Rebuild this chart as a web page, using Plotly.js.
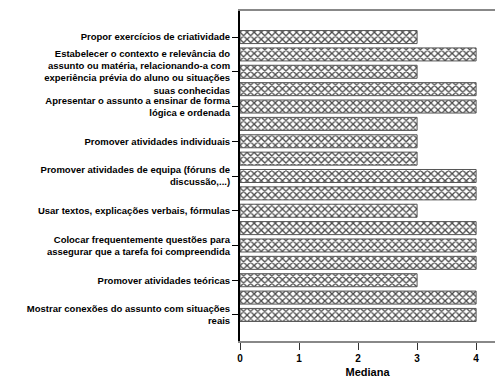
<!DOCTYPE html>
<html>
<head>
<meta charset="utf-8">
<script src="https://cdn.plot.ly/plotly-3.0.1.min.js"></script>
<style>html,body{margin:0;padding:0;background:#fff}#chart{width:495px;height:378px}</style>
</head>
<body>
<div id="chart"></div>
<script>
// bar positions (top to bottom) and median values
const positions = [1,2,3,4,5,6,7,8,9,10,11,12,13,14,15,16,17];
const medians   = [3,4,3,4,4,3,3,3,4,4,3,4,4,4,3,4,4];
// only every other category is labelled in the original
const tickPositions = [1,3,5,7,9,11,13,15,17];
const tickLabels = [
  "Propor exercícios de criatividade",
  "Estabelecer o contexto e relevância do<br>assunto ou matéria, relacionando-a com<br>experiência prévia do aluno ou situações<br>suas conhecidas",
  "Apresentar o assunto a ensinar de forma<br>lógica e ordenada",
  "Promover atividades individuais",
  "Promover atividades de equipa (fóruns de<br>discussão,...)",
  "Usar textos, explicações verbais, fórmulas",
  "Colocar frequentemente questões para<br>assegurar que a tarefa foi compreendida",
  "Promover atividades teóricas",
  "Mostrar conexões do assunto com situações<br>reais"
];
const xTicks = [0,1,2,3,4];

const trace = {
  type: 'bar',
  orientation: 'h',
  x: medians,
  y: positions,
  width: 0.75,
  marker: {
    color: '#ffffff',
    line: {color: '#555555', width: 1},
    pattern: {shape: 'x', fgcolor: '#4a4a4a', bgcolor: '#ffffff', size: 5, solidity: 0.45}
  },
  hoverinfo: 'x+y'
};

const fam = '"Liberation Sans", Arial, sans-serif';

const layout = {
  width: 495, height: 378,
  margin: {l: 240, r: 0, t: 11, b: 37, pad: 0},
  paper_bgcolor: '#fff', plot_bgcolor: '#fff',
  showlegend: false,
  font: {family: fam, size: 10, color: '#000'},
  xaxis: {
    range: [0, 4.32],
    tickvals: xTicks,
    ticktext: xTicks.map(String),
    showgrid: false, zeroline: false,
    showline: true, linecolor: '#888888', linewidth: 2, mirror: true,
    ticks: 'outside', ticklen: 7, tickcolor: '#333', tickwidth: 1,
    tickfont: {family: fam, size: 10, color: '#000', weight: 'bold'},
    title: {text: '<b>Mediana</b>', font: {family: fam, size: 11, color: '#000'}, standoff: 8}
  },
  yaxis: {
    range: [18.5, -0.5],
    tickvals: tickPositions,
    ticktext: tickLabels.map(t => '<b>' + t.split('<br>').join('</b><br><b>') + '</b>'),
    showgrid: false, zeroline: false,
    showline: true, linecolor: '#000', linewidth: 2,
    ticks: 'outside', ticklen: 6, tickcolor: '#000', tickwidth: 1,
    tickfont: {family: fam, size: 9.5, color: '#000'},
    automargin: false
  }
};

Plotly.newPlot('chart', [trace], layout, {displayModeBar: false, staticPlot: true});
</script>
</body>
</html>
